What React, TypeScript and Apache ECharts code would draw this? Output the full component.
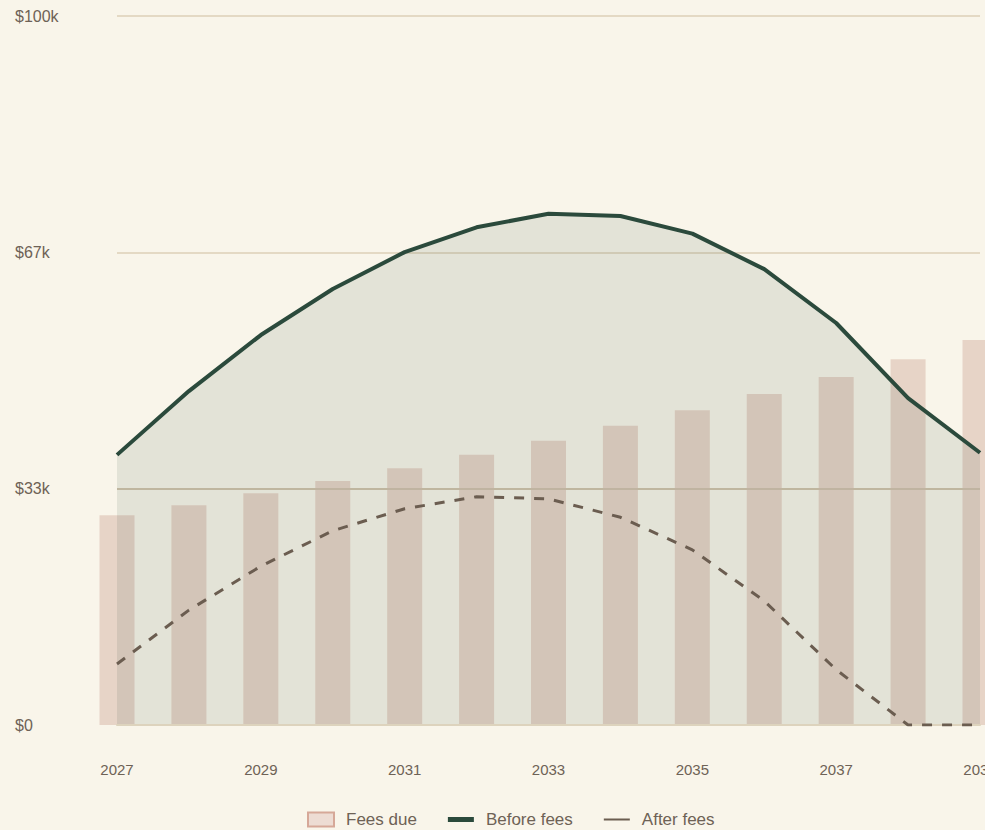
import React, { useEffect, useRef } from "react";
import * as echarts from "echarts";

const years = ["2027", "2028", "2029", "2030", "2031", "2032", "2033", "2034", "2035", "2036", "2037", "2038", "2039"];
const feesDue = [29600, 31000, 32700, 34400, 36200, 38100, 40100, 42200, 44400, 46700, 49100, 51600, 54300];
const beforeFees = [38100, 47100, 55000, 61500, 66700, 70200, 72100, 71800, 69300, 64300, 56700, 46100, 38400];
const afterFees = [8600, 16200, 22400, 27400, 30500, 32200, 31900, 29300, 24700, 17500, 7800, 0, 0];
const yMax = 100000;
const yInterval = 100000 / 3;
const refLine = 100000 / 3;

const BG = "#f9f5ea";
const TEXT = "#6e6256";
const GREEN = "#2b4a3c";
const BROWN = "#6b5d50";
const BAR = "#e7d4c7";

export default function App() {
  const ref = useRef<HTMLDivElement>(null);
  useEffect(() => {
    document.body.style.margin = "0";
    document.body.style.background = BG;
    const chart = echarts.init(ref.current!, null, { renderer: "svg" });
    chart.setOption({
      animation: false,
      backgroundColor: BG,
      textStyle: { fontFamily: "Liberation Sans, Arial, sans-serif" },
      grid: { left: 117, right: 5, top: 16, bottom: 105, containLabel: false, outerBoundsMode: "none" },
      legend: {
        left: 302,
        top: 806,
        itemWidth: 26,
        itemHeight: 14,
        itemGap: 31,
        symbolKeepAspect: true,
        textStyle: { fontSize: 17, color: TEXT, padding: [0, 0, 0, 7] },
        data: [
          { name: "Fees due", icon: "rect", itemStyle: { color: "#eddcd3", borderColor: "#d6a898", borderWidth: 2 } },
          { name: "Before fees", icon: "path://M0,0H26V5H0Z", itemStyle: { color: GREEN, borderWidth: 0 } },
          { name: "After fees", icon: "path://M0,0H26V2H0Z", itemStyle: { color: BROWN, borderWidth: 0 } },
        ],
      },
      xAxis: {
        type: "category",
        data: years,
        boundaryGap: false,
        z: 3,
        axisLine: { show: true, lineStyle: { color: "#ddd3bd", width: 2 } },
        axisTick: { show: false },
        axisLabel: { color: TEXT, fontSize: 15, margin: 37, interval: 1 },
        splitLine: { show: false },
      },
      yAxis: {
        type: "value",
        min: 0,
        max: yMax,
        interval: yInterval,
        axisLine: { show: false },
        axisTick: { show: false },
        axisLabel: {
          color: TEXT,
          fontSize: 16,
          align: "left",
          margin: 102,
          formatter: (v: number) => (v === 0 ? "$0" : "$" + Math.round(v / 1000) + "k"),
        },
        splitLine: { show: true, lineStyle: { color: "#e4d9c4", width: 2 } },
      },
      series: [
        {
          name: "Fees due",
          type: "bar",
          data: feesDue,
          barWidth: 35,
          clip: false,
          itemStyle: { color: BAR },
        },
        {
          name: "Before fees",
          type: "line",
          data: beforeFees,
          symbol: "none",
          showSymbol: false,
          lineStyle: { color: GREEN, width: 4 },
          itemStyle: { color: GREEN },
          areaStyle: { color: "rgba(43,74,60,0.15)" },
          markLine: {
            silent: true,
            symbol: "none",
            label: { show: false },
            lineStyle: { color: "rgba(180,168,145,0.6)", width: 2, type: "solid" },
            data: [{ yAxis: refLine }],
          },
        },
        {
          name: "After fees",
          type: "line",
          data: afterFees,
          symbol: "none",
          showSymbol: false,
          lineStyle: { color: BROWN, width: 3, type: [10, 10] },
          itemStyle: { color: BROWN },
        },
      ],
    });
    return () => chart.dispose();
  }, []);
  return <div ref={ref} style={{ position: "absolute", left: 0, top: 0, width: 985, height: 830 }} />;
}
